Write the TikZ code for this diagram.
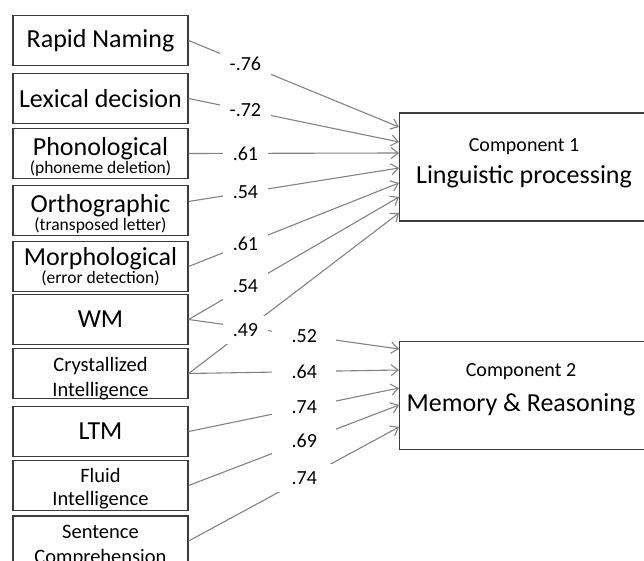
\documentclass[tikz,border=0pt]{standalone}
\usepackage{fontspec}
\setmainfont{Carlito}
\usetikzlibrary{arrows.meta}
\definecolor{boxline}{RGB}{60,60,60}
\definecolor{linkgray}{RGB}{130,130,130}
\newcommand\subnote[1]{{\fontsize{17.5}{18}\selectfont #1}}
\newcommand\tightlines{\lineskiplimit -60pt\relax}
\begin{document}
\begin{tikzpicture}[x=1pt,y=-1pt,
  src/.style={draw=boxline, line width=1.2pt, minimum width=175pt, minimum height=50pt,
    inner sep=0pt, align=center, font=\fontsize{26}{30}\selectfont},
  srctext/.style={anchor=north, inner sep=0pt, align=center,
    execute at begin node=\tightlines, font=\fontsize{26}{30}\selectfont},
  smalltext/.style={srctext, font=\fontsize{20.5}{25}\selectfont},
  comp/.style={draw=boxline, line width=1.2pt, minimum width=260pt, minimum height=108pt,
    inner sep=0pt, anchor=west},
  comptext/.style={align=center, inner sep=0pt},
  load/.style={draw=linkgray, line width=1.1pt, -{Straight Barb[length=7pt,width=11pt]}},
  lbl/.style={fill=white, inner xsep=10pt, inner ysep=0pt, minimum height=28pt,
    font=\fontsize{20}{24}\selectfont},
  lbltwo/.style={lbl, minimum width=64pt}
]
\useasboundingbox (0,0) rectangle (644,561);
\clip (0,0) rectangle (644,561);

% observed measures
\node[src] (rn) at (100.5,40.5) {Rapid Naming};
\node[src] (lex) at (100.5,98.5) {Lexical decision};
\node[src] (pho) at (100.5,153.5) {};
\node[srctext] (pho-t) at (100.5,137.5) {Phonological\\[-12.5pt]\subnote{(phoneme deletion)}};
\node[src] (ort) at (100.5,210.5) {};
\node[srctext] (ort-t) at (100.5,194.5) {Orthographic\\[-12.5pt]\subnote{(transposed letter)}};
\node[src] (mor) at (100.5,266.5) {};
\node[srctext] (mor-t) at (100.5,247.5) {Morphological\\[-12.5pt]\subnote{(error detection)}};
\node[src] (wm) at (100.5,319.5) {WM};
\node[src] (cry) at (100.5,373.5) {};
\node[smalltext] (cry-t) at (100.5,357) {Crystallized\\Intelligence};
\node[src] (ltm) at (100.5,431.5) {LTM};
\node[src] (flu) at (100.5,485.5) {};
\node[smalltext] (flu-t) at (100.5,468) {Fluid\\[-1.5pt]Intelligence};
\node[src] (sen) at (100.5,541) {};
\node[smalltext] (sen-t) at (100.5,525) {Sentence\\Comprehension};

% components
\node[comp] (c1) at (399,167) {};
\node[comptext, font=\fontsize{26}{32}\selectfont] (c1t) at (524,163)
  {{\fontsize{20}{24}\selectfont Component 1}\\Linguistic processing};
\node[comp] (c2) at (399,395.5) {};
\node[comptext, font=\fontsize{26}{35}\selectfont] (c2t) at (521,390)
  {{\fontsize{20}{24}\selectfont Component 2}\\Memory \& Reasoning};

% loadings on component 2 (WM first, so the .49 label covers it)
\draw[load] (wm.east) -- ([yshift=46.5pt]c2.west) node[lbltwo,pos=0.55] {.52};
\draw[load] (cry.east) -- ([yshift=25.5pt]c2.west) node[lbltwo,pos=0.55] {.64};
\draw[load] (ltm.east) -- ([yshift=7.5pt]c2.west) node[lbltwo,pos=0.55] {.74};
\draw[load] (flu.east) -- ([yshift=-9.5pt]c2.west) node[lbltwo,pos=0.55] {.69};
\draw[load] (sen.east) -- ([yshift=-31.5pt]c2.west) node[lbltwo,pos=0.55] {.74};

% loadings on component 1
\draw[load] (rn.east) -- ([yshift=40pt]c1.west) node[lbl,pos=0.27] {-.76};
\draw[load] (lex.east) -- ([yshift=25pt]c1.west) node[lbl,pos=0.27] {-.72};
\draw[load] (pho.east) -- ([yshift=14pt]c1.west) node[lbl,pos=0.27] {.61};
\draw[load] ([yshift=9pt]ort.east) -- ([yshift=-1pt]c1.west) node[lbl,pos=0.27] {.54};
\draw[load] (mor.east) -- ([yshift=-16pt]c1.west) node[lbl,pos=0.27] {.61};
\draw[load] (wm.east) -- ([yshift=-30pt]c1.west) node[lbl,pos=0.27] {.54};
\draw[load] (cry.east) -- ([yshift=-46pt]c1.west) node[lbl,pos=0.27] {.49};
\end{tikzpicture}
\end{document}
